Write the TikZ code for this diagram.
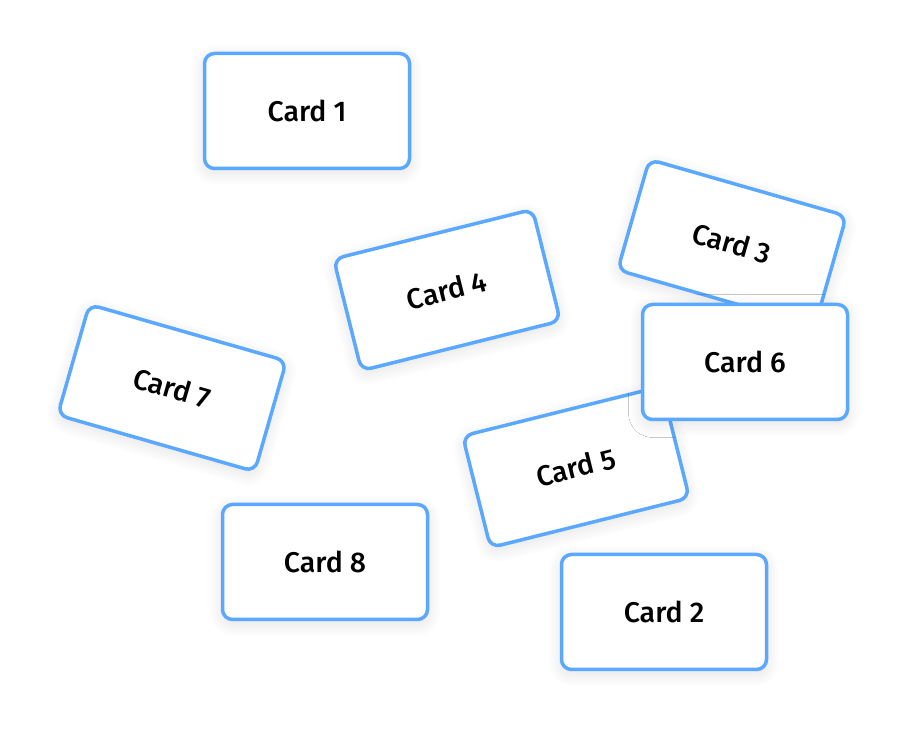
\documentclass[tikz,border=0pt]{standalone}
\usepackage{fontspec}
\setmainfont{Fira Sans Medium}
\usetikzlibrary{shadows.blur}
\definecolor{cardblue}{HTML}{5AA8FF}
\begin{document}
\begin{tikzpicture}[x=1pt,y=1pt,
  card/.style={draw=cardblue,line width=3.5pt,fill=white,rounded corners=10pt,
    minimum width=205pt,minimum height=115pt,font=\fontsize{28.5}{30}\selectfont,
    blur shadow={shadow blur steps=16,shadow xshift=0pt,shadow yshift=-4pt,shadow blur radius=14pt,shadow opacity=12}}]
\useasboundingbox (0,0) rectangle (905,733);
\node[card] (c1) at (307,622) {Card 1};
\node[card,rotate=14] (c4) at (447,443) {Card 4};
\node[card,rotate=-16] (c7) at (172,345) {Card 7};
\node[card] (c8) at (325,171) {Card 8};
\node[card] (c2) at (664,121) {Card 2};
\node[card,rotate=-16] (c3) at (732,490) {Card 3};
\node[card,rotate=14] (c5) at (576,266) {Card 5};
\node[card] (c6) at (745,371) {Card 6};
\end{tikzpicture}
\end{document}
